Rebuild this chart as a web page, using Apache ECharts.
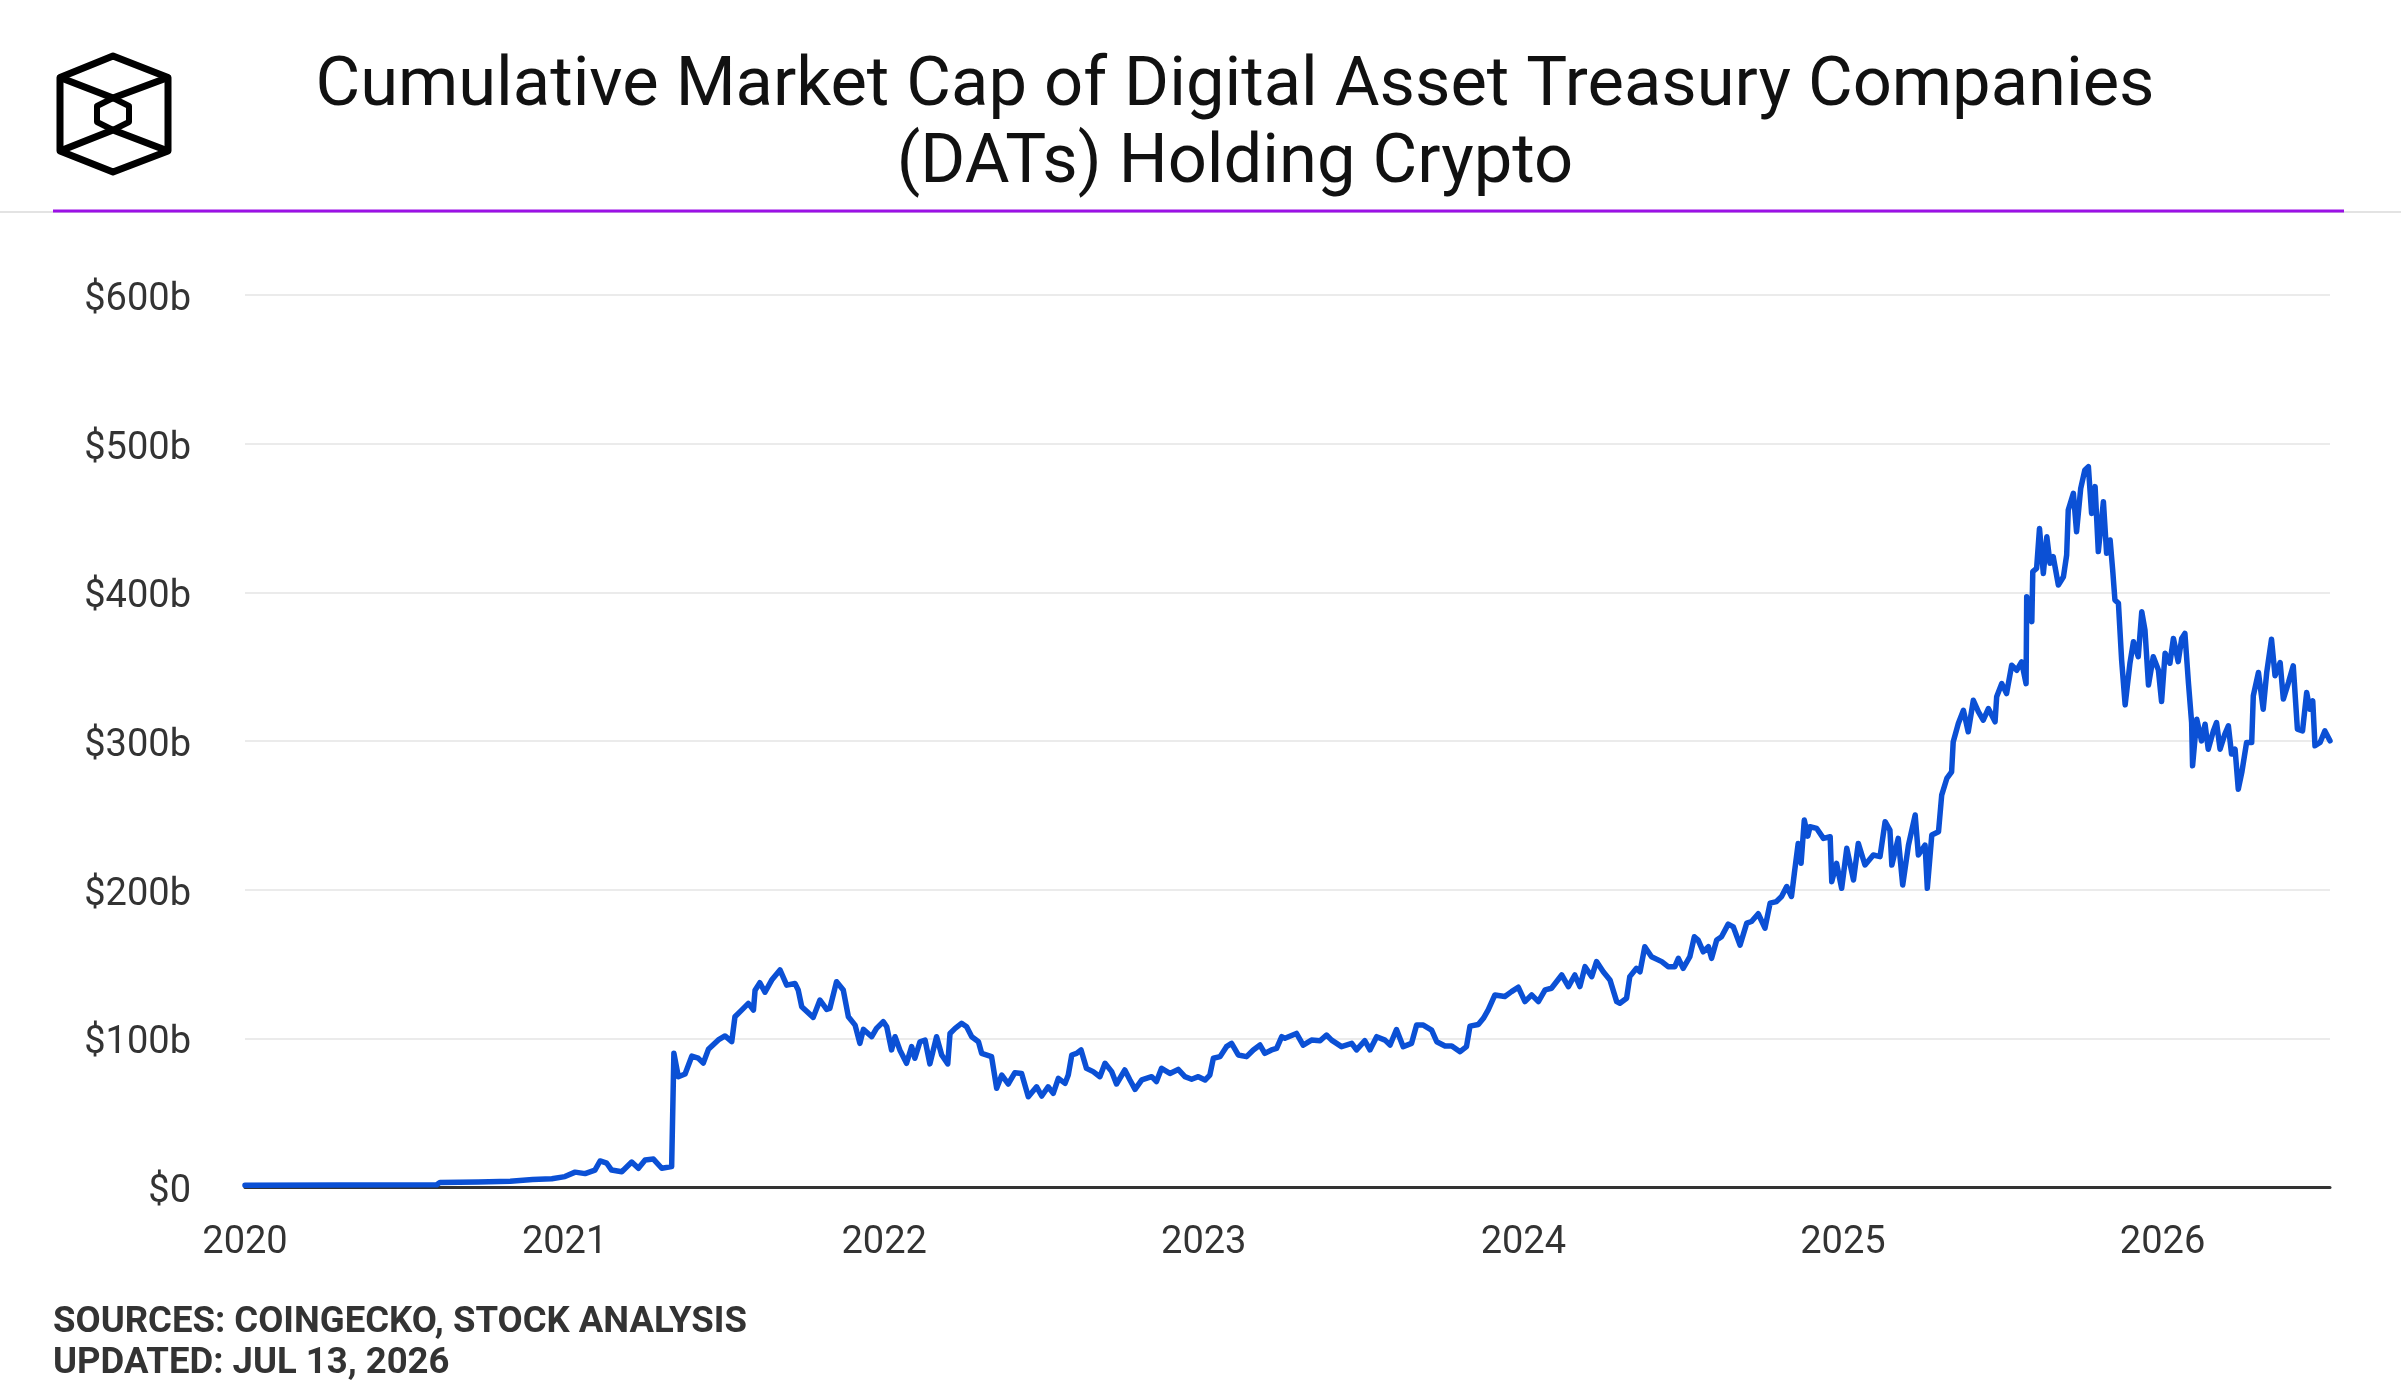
<!DOCTYPE html>
<html>
<head>
<meta charset="utf-8">
<title>DAT market cap</title>
<script src="https://cdn.jsdelivr.net/npm/echarts@6/dist/echarts.min.js"></script>
<style>
  html, body { margin: 0; padding: 0; background: #fff; }
  #chart { width: 2401px; height: 1400px; }
</style>
</head>
<body>
<div id="chart"></div>
<script>
// positions on the time axis, in decimal years
var yearPos = [
  2020.000, 2020.300, 2020.600, 2020.610, 2020.730, 2020.830, 2020.900, 2020.960,
  2021.001, 2021.033, 2021.064, 2021.095, 2021.111, 2021.132, 2021.147, 2021.179,
  2021.210, 2021.231, 2021.252, 2021.278, 2021.304, 2021.335, 2021.342, 2021.356,
  2021.377, 2021.398, 2021.418, 2021.434, 2021.450, 2021.481, 2021.502, 2021.523,
  2021.533, 2021.554, 2021.575, 2021.591, 2021.596, 2021.611, 2021.627, 2021.648,
  2021.674, 2021.695, 2021.721, 2021.731, 2021.742, 2021.778, 2021.799, 2021.820,
  2021.830, 2021.851, 2021.872, 2021.888, 2021.909, 2021.924, 2021.935, 2021.961,
  2021.976, 2021.997, 2022.008, 2022.023, 2022.034, 2022.049, 2022.070, 2022.086,
  2022.096, 2022.112, 2022.128, 2022.143, 2022.164, 2022.180, 2022.199, 2022.206,
  2022.222, 2022.242, 2022.258, 2022.274, 2022.295, 2022.305, 2022.336, 2022.352,
  2022.368, 2022.388, 2022.409, 2022.430, 2022.451, 2022.477, 2022.493, 2022.513,
  2022.529, 2022.545, 2022.566, 2022.576, 2022.587, 2022.602, 2022.616, 2022.633,
  2022.654, 2022.675, 2022.691, 2022.712, 2022.727, 2022.753, 2022.769, 2022.785,
  2022.806, 2022.837, 2022.852, 2022.868, 2022.894, 2022.920, 2022.941, 2022.962,
  2022.983, 2023.004, 2023.019, 2023.030, 2023.051, 2023.071, 2023.087, 2023.108,
  2023.134, 2023.155, 2023.176, 2023.191, 2023.212, 2023.228, 2023.244, 2023.254,
  2023.290, 2023.311, 2023.337, 2023.364, 2023.384, 2023.400, 2023.431, 2023.463,
  2023.478, 2023.504, 2023.520, 2023.541, 2023.567, 2023.583, 2023.603, 2023.624,
  2023.650, 2023.666, 2023.687, 2023.713, 2023.729, 2023.755, 2023.776, 2023.802,
  2023.822, 2023.833, 2023.859, 2023.875, 2023.890, 2023.911, 2023.942, 2023.963,
  2023.984, 2024.005, 2024.026, 2024.047, 2024.068, 2024.088, 2024.120, 2024.141,
  2024.161, 2024.177, 2024.193, 2024.214, 2024.229, 2024.250, 2024.271, 2024.292,
  2024.302, 2024.323, 2024.333, 2024.354, 2024.365, 2024.380, 2024.401, 2024.433,
  2024.453, 2024.474, 2024.485, 2024.500, 2024.521, 2024.535, 2024.547, 2024.563,
  2024.579, 2024.589, 2024.605, 2024.620, 2024.641, 2024.657, 2024.678, 2024.699,
  2024.714, 2024.735, 2024.756, 2024.772, 2024.792, 2024.808, 2024.824, 2024.839,
  2024.848, 2024.860, 2024.869, 2024.879, 2024.890, 2024.897, 2024.918, 2024.939,
  2024.960, 2024.965, 2024.980, 2024.996, 2025.012, 2025.033, 2025.048, 2025.069,
  2025.095, 2025.116, 2025.132, 2025.147, 2025.153, 2025.173, 2025.187, 2025.205,
  2025.226, 2025.236, 2025.257, 2025.264, 2025.278, 2025.299, 2025.309, 2025.325,
  2025.340, 2025.345, 2025.361, 2025.377, 2025.392, 2025.408, 2025.424, 2025.439,
  2025.455, 2025.476, 2025.481, 2025.497, 2025.512, 2025.528, 2025.544, 2025.559,
  2025.573, 2025.575, 2025.591, 2025.594, 2025.606, 2025.615, 2025.627, 2025.638,
  2025.648, 2025.658, 2025.674, 2025.690, 2025.700, 2025.705, 2025.721, 2025.731,
  2025.744, 2025.757, 2025.768, 2025.778, 2025.789, 2025.799, 2025.815, 2025.825,
  2025.836, 2025.844, 2025.851, 2025.862, 2025.872, 2025.883, 2025.898, 2025.909,
  2025.924, 2025.935, 2025.945, 2025.956, 2025.971, 2025.987, 2025.997, 2026.008,
  2026.023, 2026.034, 2026.049, 2026.060, 2026.070, 2026.081, 2026.091, 2026.094,
  2026.107, 2026.122, 2026.133, 2026.143, 2026.159, 2026.169, 2026.180, 2026.195,
  2026.206, 2026.216, 2026.227, 2026.237, 2026.248, 2026.263, 2026.279, 2026.284,
  2026.300, 2026.315, 2026.326, 2026.341, 2026.352, 2026.368, 2026.378, 2026.394,
  2026.409, 2026.422, 2026.438, 2026.451, 2026.461, 2026.470, 2026.477, 2026.493,
  2026.508, 2026.524
];

// cumulative market cap, billions of USD
var capB = [
  1.2, 1.3, 1.5, 3.1, 3.4, 3.9, 5.0, 5.6,
  7.0, 10.0, 9.0, 11.4, 17.5, 16.0, 11.4, 10.3,
  16.8, 12.6, 18.2, 18.8, 12.6, 13.7, 89.9, 74.2,
  76.0, 88.0, 86.7, 83.3, 92.6, 98.9, 101.6, 97.8,
  114.5, 119.0, 123.5, 119.0, 132.4, 137.4, 131.0, 139.2,
  146.0, 135.8, 136.9, 132.5, 121.3, 114.1, 125.8, 119.5,
  120.2, 138.1, 132.5, 114.5, 108.9, 96.6, 106.0, 101.1,
  106.7, 111.2, 107.8, 92.2, 101.1, 92.2, 83.2, 94.4,
  86.6, 97.7, 98.8, 82.8, 101.1, 88.8, 82.8, 103.3,
  106.7, 110.1, 107.8, 101.1, 97.7, 89.9, 87.7, 66.4,
  75.3, 69.3, 76.9, 76.4, 60.7, 67.4, 61.2, 67.4,
  63.0, 73.1, 69.7, 75.3, 88.8, 89.9, 92.2, 79.8,
  77.6, 74.2, 83.2, 77.6, 69.3, 78.7, 72.0, 65.7,
  72.0, 74.2, 70.9, 79.8, 76.4, 79.1, 74.2, 72.5,
  74.2, 72.0, 75.3, 86.6, 87.7, 94.4, 96.6, 88.8,
  87.7, 92.2, 95.5, 89.9, 92.2, 93.3, 101.1, 100.0,
  103.3, 95.5, 98.8, 98.4, 102.2, 98.8, 94.4, 96.6,
  92.2, 98.4, 92.2, 101.1, 98.8, 95.5, 105.9, 94.4,
  96.6, 108.9, 108.9, 105.5, 97.7, 94.8, 94.8, 91.0,
  94.4, 108.2, 109.3, 113.5, 119.1, 129.2, 128.1, 131.4,
  134.4, 124.7, 129.2, 124.7, 132.6, 133.7, 142.6, 134.8,
  142.6, 134.8, 148.2, 141.5, 151.6, 144.8, 139.3, 124.7,
  123.6, 127.0, 141.5, 147.1, 144.8, 161.6, 154.9, 151.6,
  148.2, 148.2, 153.8, 147.1, 154.9, 168.3, 166.1, 158.2,
  161.6, 153.8, 166.1, 168.3, 176.8, 175.0, 162.7, 177.5,
  178.6, 183.8, 174.1, 190.9, 192.0, 195.4, 202.1, 195.4,
  211.1, 231.1, 217.7, 246.8, 236.0, 242.3, 241.2, 234.5,
  235.6, 205.4, 217.7, 200.9, 227.8, 206.5, 231.1, 216.6,
  223.3, 222.2, 245.7, 240.1, 216.6, 234.5, 203.1, 230.0,
  250.2, 223.3, 230.0, 200.9, 236.8, 239.0, 263.6, 274.8,
  279.3, 299.4, 311.7, 320.7, 306.2, 327.4, 319.6, 314.0,
  321.8, 312.9, 329.7, 338.6, 331.9, 351.0, 347.6, 353.2,
  338.6, 397.1, 380.3, 413.9, 416.1, 443.0, 412.7, 437.4,
  419.5, 424.0, 404.9, 410.5, 425.1, 455.4, 466.6, 440.8,
  470.0, 482.3, 484.5, 453.1, 471.1, 427.4, 461.0, 426.3,
  435.2, 415.0, 394.9, 392.6, 354.5, 324.3, 352.3, 366.8,
  356.7, 387.0, 374.7, 337.7, 356.7, 347.8, 326.5, 359.0,
  352.3, 369.0, 353.4, 369.0, 372.4, 339.3, 312.4, 283.3,
  314.7, 300.1, 311.3, 294.5, 306.8, 312.4, 294.5, 304.6,
  310.2, 291.2, 294.5, 267.6, 278.8, 299.0, 299.0, 330.4,
  346.1, 321.4, 346.1, 368.5, 343.9, 352.8, 328.2, 339.3,
  350.6, 308.0, 306.8, 332.6, 321.4, 327.0, 296.8, 299.0,
  306.8, 300.1
];

var firstYear = 2020;
var lastPos = 2026.524;
var yTickStep = 100;
var yTop = 600;

var chartDom = document.getElementById('chart');
var chart = echarts.init(chartDom);

var seriesData = yearPos.map(function (t, i) { return [t, capB[i]]; });

var option = {
  animation: false,
  backgroundColor: '#fff',
  textStyle: { fontFamily: 'Roboto' },
  grid: {
    left: 245,
    right: 71,
    top: 295,
    bottom: 213,
    outerBoundsMode: 'none'
  },
  xAxis: {
    type: 'value',
    min: firstYear,
    max: lastPos,
    interval: 1,
    axisLine: { lineStyle: { color: '#333', width: 3 } },
    axisTick: { show: false },
    splitLine: { show: false },
    axisLabel: {
      fontSize: 38,
      color: '#333',
      margin: 37,
      showMaxLabel: false,
      formatter: function (v) { return String(Math.round(v)); }
    }
  },
  yAxis: {
    type: 'value',
    min: 0,
    max: yTop,
    interval: yTickStep,
    axisLine: { show: false },
    axisTick: { show: false },
    splitLine: { lineStyle: { color: '#ebebeb', width: 2 } },
    axisLabel: {
      margin: 54,
      formatter: function (v) { return '{v|' + (v === 0 ? '$0' : '$' + v + 'b') + '}'; },
      rich: {
        v: { fontSize: 38, color: '#333', fontFamily: 'Roboto', padding: [11, 0, 0, 0] }
      }
    }
  },
  series: [
    {
      name: 'DAT market cap',
      type: 'line',
      data: seriesData,
      showSymbol: false,
      lineStyle: { color: '#0b50d5', width: 5.5, join: 'round', cap: 'round' },
      itemStyle: { color: '#0b50d5' },
      z: 3
    }
  ],
  graphic: [
    // header rule
    { type: 'line', shape: { x1: 0, y1: 212, x2: 2401, y2: 212 }, style: { stroke: '#e3e3e3', lineWidth: 2 } },
    { type: 'line', shape: { x1: 53, y1: 211, x2: 2344, y2: 211 }, style: { stroke: '#9b10e6', lineWidth: 3 } },
    // logo
    { type: 'polygon', shape: { points: [[113, 56], [168, 77.5], [168, 151], [113, 172], [60, 151], [60, 77.5]] },
      style: { fill: 'none', stroke: '#000', lineWidth: 7, lineJoin: 'round' } },
    { type: 'polyline', shape: { points: [[60, 77.5], [113, 98], [168, 77.5]] },
      style: { fill: 'none', stroke: '#000', lineWidth: 7, lineJoin: 'round' } },
    { type: 'polyline', shape: { points: [[60, 151], [113, 130], [168, 151]] },
      style: { fill: 'none', stroke: '#000', lineWidth: 7, lineJoin: 'round' } },
    { type: 'polygon', shape: { points: [[113, 98], [129, 106], [129, 122], [113, 130], [97, 122], [97, 106]] },
      style: { fill: 'none', stroke: '#000', lineWidth: 6, lineJoin: 'round' } },
    // title
    { type: 'text', x: 1235, y: 88, style: { text: 'Cumulative Market Cap of Digital Asset Treasury Companies',
      font: '68.7px Roboto', fill: '#111', textAlign: 'center', textVerticalAlign: 'middle' } },
    { type: 'text', x: 1235, y: 165, style: { text: '(DATs) Holding Crypto',
      font: '68.7px Roboto', fill: '#111', textAlign: 'center', textVerticalAlign: 'middle' } },
    // footer
    { type: 'text', x: 53, y: 1323, style: { text: 'SOURCES: COINGECKO, STOCK ANALYSIS',
      font: 'bold 36.5px Roboto', fill: '#333', textAlign: 'left', textVerticalAlign: 'middle' } },
    { type: 'text', x: 53, y: 1364, style: { text: 'UPDATED: JUL 13, 2026',
      font: 'bold 36.5px Roboto', fill: '#333', textAlign: 'left', textVerticalAlign: 'middle' } }
  ]
};

chart.setOption(option);
</script>
</body>
</html>
